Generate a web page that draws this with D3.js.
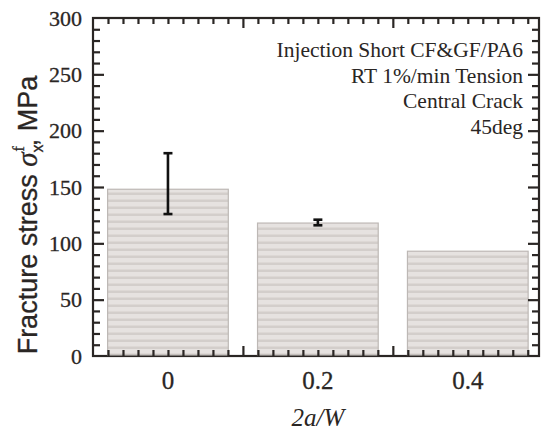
<!DOCTYPE html>
<html><head><meta charset="utf-8">
<script src="https://cdn.jsdelivr.net/npm/d3@7"></script>
<style>body{margin:0;background:#fff}svg{display:block}</style>
</head><body>
<script>
const categories = [0, 0.2, 0.4];
const categoryLabels = ["0", "0.2", "0.4"];
const stressMean = [148, 118, 93];
const stressHigh = [180, 121, null];
const stressLow = [126, 116, null];
const yTicks = [0, 50, 100, 150, 200, 250, 300];
const notes = ["Injection Short CF&GF/PA6", "RT 1%/min Tension", "Central Crack", "45deg"];

const W = 542, H = 430;
const m = {l: 93, r: 3, t: 18, b: 74};
const svg = d3.select("body").append("svg").attr("width", W).attr("height", H);
const defs = svg.append("defs");
const pat = defs.append("pattern").attr("id", "stripe").attr("patternUnits", "userSpaceOnUse")
  .attr("width", 8).attr("height", 7).attr("y", 0);
pat.append("rect").attr("width", 8).attr("height", 7).attr("fill", "#e6e2e0");
pat.append("rect").attr("y", 4).attr("width", 8).attr("height", 2).attr("fill", "#d3cecb");
pat.append("rect").attr("y", 3).attr("width", 8).attr("height", 1).attr("fill", "#ddd8d5");

const x = d3.scaleLinear().domain([-0.1, 0.495]).range([m.l, W - m.r]);
const y = d3.scaleLinear().domain([0, 300]).range([H - m.b, m.t]);
const barW = 0.161;
const xL = x.range()[0], xR = x.range()[1];
const yB = y(0), yT = y(300);

const serif = "'Liberation Serif','Times New Roman',serif";
const sans = "'Liberation Sans',Arial,sans-serif";
const ink = "#2a2624";

// tick value lists
const xMinorVals = d3.range(-4, 25).map(k => +(k * 0.02).toFixed(2)).filter(v => v > -0.1 && v < 0.495 && Math.abs(v - 0.1) > 1e-6 && Math.abs(v - 0.3) > 1e-6);
const xMajorVals = [0.1, 0.3];
const yMinorVals = d3.range(1, 30).map(k => k * 10).filter(v => v % 50 !== 0);
const yMajorVals = [50, 100, 150, 200, 250];

function styleAxis(g) {
  g.select(".domain").remove();
  g.selectAll(".tick line").attr("stroke", ink).attr("stroke-width", 2.2);
  g.selectAll(".tick text").remove();
}
// frame
svg.append("rect").attr("x", xL).attr("y", yT)
  .attr("width", xR - xL).attr("height", yB - yT)
  .attr("fill", "none").attr("stroke", ink).attr("stroke-width", 2.2);

// bars
svg.selectAll("rect.bar").data(categories).enter().append("rect")
  .attr("class", "bar")
  .attr("x", d => x(d - barW / 2))
  .attr("width", d => x(d + barW / 2) - x(d - barW / 2))
  .attr("y", (d, i) => y(stressMean[i]))
  .attr("height", (d, i) => yB - y(stressMean[i]) - 1)
  .attr("fill", "url(#stripe)")
  .attr("stroke", "#bdb8b5").attr("stroke-width", 1.2);

// ticks (inward), drawn over bars
[[xMinorVals, 6], [xMajorVals, 10]].forEach(([vals, len]) => {
  svg.append("g").attr("class", "tk").attr("transform", `translate(0,${yB})`)
    .call(d3.axisBottom(x).tickValues(vals).tickSizeInner(-len).tickSizeOuter(0).tickFormat(() => "")).call(styleAxis);
  svg.append("g").attr("class", "tk").attr("transform", `translate(0,${yT})`)
    .call(d3.axisTop(x).tickValues(vals).tickSizeInner(-len).tickSizeOuter(0).tickFormat(() => "")).call(styleAxis);
});
[[yMinorVals, 7], [yMajorVals, 11]].forEach(([vals, len]) => {
  svg.append("g").attr("class", "tk").attr("transform", `translate(${xL},0)`)
    .call(d3.axisLeft(y).tickValues(vals).tickSizeInner(-len).tickSizeOuter(0).tickFormat(() => "")).call(styleAxis);
  svg.append("g").attr("class", "tk").attr("transform", `translate(${xR},0)`)
    .call(d3.axisRight(y).tickValues(vals).tickSizeInner(-len).tickSizeOuter(0).tickFormat(() => "")).call(styleAxis);
});

// error bars
const eb = svg.append("g").attr("stroke", "#111").attr("stroke-width", 2.6);
categories.forEach((c, i) => {
  if (stressHigh[i] == null) return;
  const cx = x(c);
  eb.append("line").attr("x1", cx).attr("x2", cx).attr("y1", y(stressHigh[i])).attr("y2", y(stressLow[i]));
  eb.append("line").attr("x1", cx - 4.5).attr("x2", cx + 4.5).attr("y1", y(stressHigh[i])).attr("y2", y(stressHigh[i]));
  eb.append("line").attr("x1", cx - 4.5).attr("x2", cx + 4.5).attr("y1", y(stressLow[i])).attr("y2", y(stressLow[i]));
});

// y tick labels
svg.append("g").selectAll("text").data(yTicks).enter().append("text")
  .attr("x", 82).attr("y", d => y(d)).attr("dy", "0.35em")
  .attr("text-anchor", "end").attr("font-family", serif).attr("font-size", 22).attr("fill", ink)
  .attr("stroke", ink).attr("stroke-width", 0.3)
  .text(d => d);

// x tick labels
svg.append("g").selectAll("text").data(categories).enter().append("text")
  .attr("x", d => x(d)).attr("y", 389)
  .attr("text-anchor", "middle").attr("font-family", serif).attr("font-size", 25).attr("fill", ink)
  .attr("stroke", ink).attr("stroke-width", 0.3)
  .text((d, i) => categoryLabels[i]);

// x title
svg.append("text").attr("x", x(0.2)).attr("y", 426).attr("text-anchor", "middle")
  .attr("font-family", serif).attr("font-style", "italic").attr("font-size", 25).attr("fill", ink)
  .text("2a/W");

// y title
const yt = svg.append("text").attr("transform", "translate(37,215) rotate(-90)")
  .attr("text-anchor", "middle").attr("font-family", sans).attr("font-size", 27).attr("fill", ink)
  .attr("stroke", ink).attr("stroke-width", 0.3);
yt.append("tspan").text("Fracture stress ");
yt.append("tspan").attr("font-family", serif).attr("font-style", "italic").attr("font-size", 29).text("σ");
yt.append("tspan").attr("font-size", 16).attr("dy", 6).text("x");
yt.append("tspan").attr("font-size", 16).attr("font-family", serif).attr("dy", -19).attr("dx", -7).text("f");
yt.append("tspan").attr("dy", 13).text(", MPa");

// notes
svg.append("g").selectAll("text").data(notes).enter().append("text")
  .attr("x", 523).attr("y", (d, i) => 57 + i * 25.5)
  .attr("text-anchor", "end").attr("font-family", serif).attr("font-size", 21.5).attr("fill", ink)
  .text(d => d);
</script>
</body></html>
